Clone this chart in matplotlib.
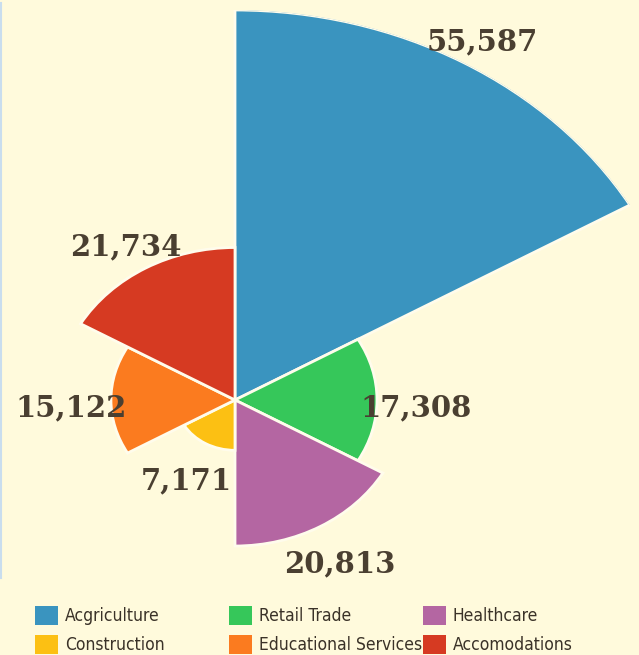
import numpy as np
import matplotlib.pyplot as plt
import matplotlib.transforms as mtransforms
from matplotlib.patches import Patch
from matplotlib.lines import Line2D

sectors = ['Acgriculture', 'Retail Trade', 'Healthcare',
           'Construction', 'Educational Services', 'Accomodations']
values = [55587, 17308, 20813, 7171, 15122, 21734]
colors = ['#3A94BF', '#36C75A', '#B466A2', '#FCC013', '#FB7B1F', '#D63A22']

bg = '#FFFADC'
text_col = '#4A3F31'

fig = plt.figure(figsize=(6.39, 6.55), dpi=100, facecolor=bg)

# polar axes stretched a bit wider than tall, like the original picture
W, H = 639, 655
cx, cy = 235, 400
rx, ry = 456, 390
ax = fig.add_axes([(cx - rx) / W, (H - cy - ry) / H, 2 * rx / W, 2 * ry / H],
                  projection='polar')
ax.set_aspect('auto')
ax.set_theta_zero_location('N')
ax.set_theta_direction(-1)
ax.set_facecolor('none')

n = len(values)
width = 2 * np.pi / n
theta = np.arange(n) * width + width / 2

ax.bar(theta, values, width=width, color=colors, edgecolor='#FFFCEC',
       linewidth=2, align='center')

lab_tr = mtransforms.offset_copy(ax.transData, fig=fig, y=-6, units='points')
for t, v in zip(theta, values):
    ax.text(t, v + 4800, f'{v:,}', ha='center', va='center',
            fontsize=21, fontweight='bold', family='DejaVu Serif',
            color=text_col, transform=lab_tr)

ax.set_ylim(0, max(values))
ax.set_xticks([])
ax.set_yticks([])
ax.grid(False)
ax.spines['polar'].set_visible(False)

# thin border line on the left edge
fig.add_artist(Line2D([0.001, 0.001], [1 - 3 / H, 1 - 578 / H],
                      color='#C9DDEE', lw=1.5, transform=fig.transFigure))

# legend: three fixed columns of two rows
handles = [Patch(facecolor=c, edgecolor='none') for c in colors]
col_x = [35, 229, 423]
order = [(0, 3), (1, 4), (2, 5)]
for x, (i, j) in zip(col_x, order):
    leg = fig.legend([handles[i], handles[j]], [sectors[i], sectors[j]],
                     loc='upper left', bbox_to_anchor=(x / W, 1 - 606 / H),
                     frameon=False, borderpad=0, borderaxespad=0,
                     handlelength=1.3, handleheight=1.3, handletextpad=0.42,
                     labelspacing=0.55,
                     prop={'family': 'DejaVu Sans', 'stretch': 'condensed',
                           'size': 12.5})
    for txt in leg.get_texts():
        txt.set_color('#3A3228')

fig.savefig('out.png', dpi=100, facecolor=bg)
